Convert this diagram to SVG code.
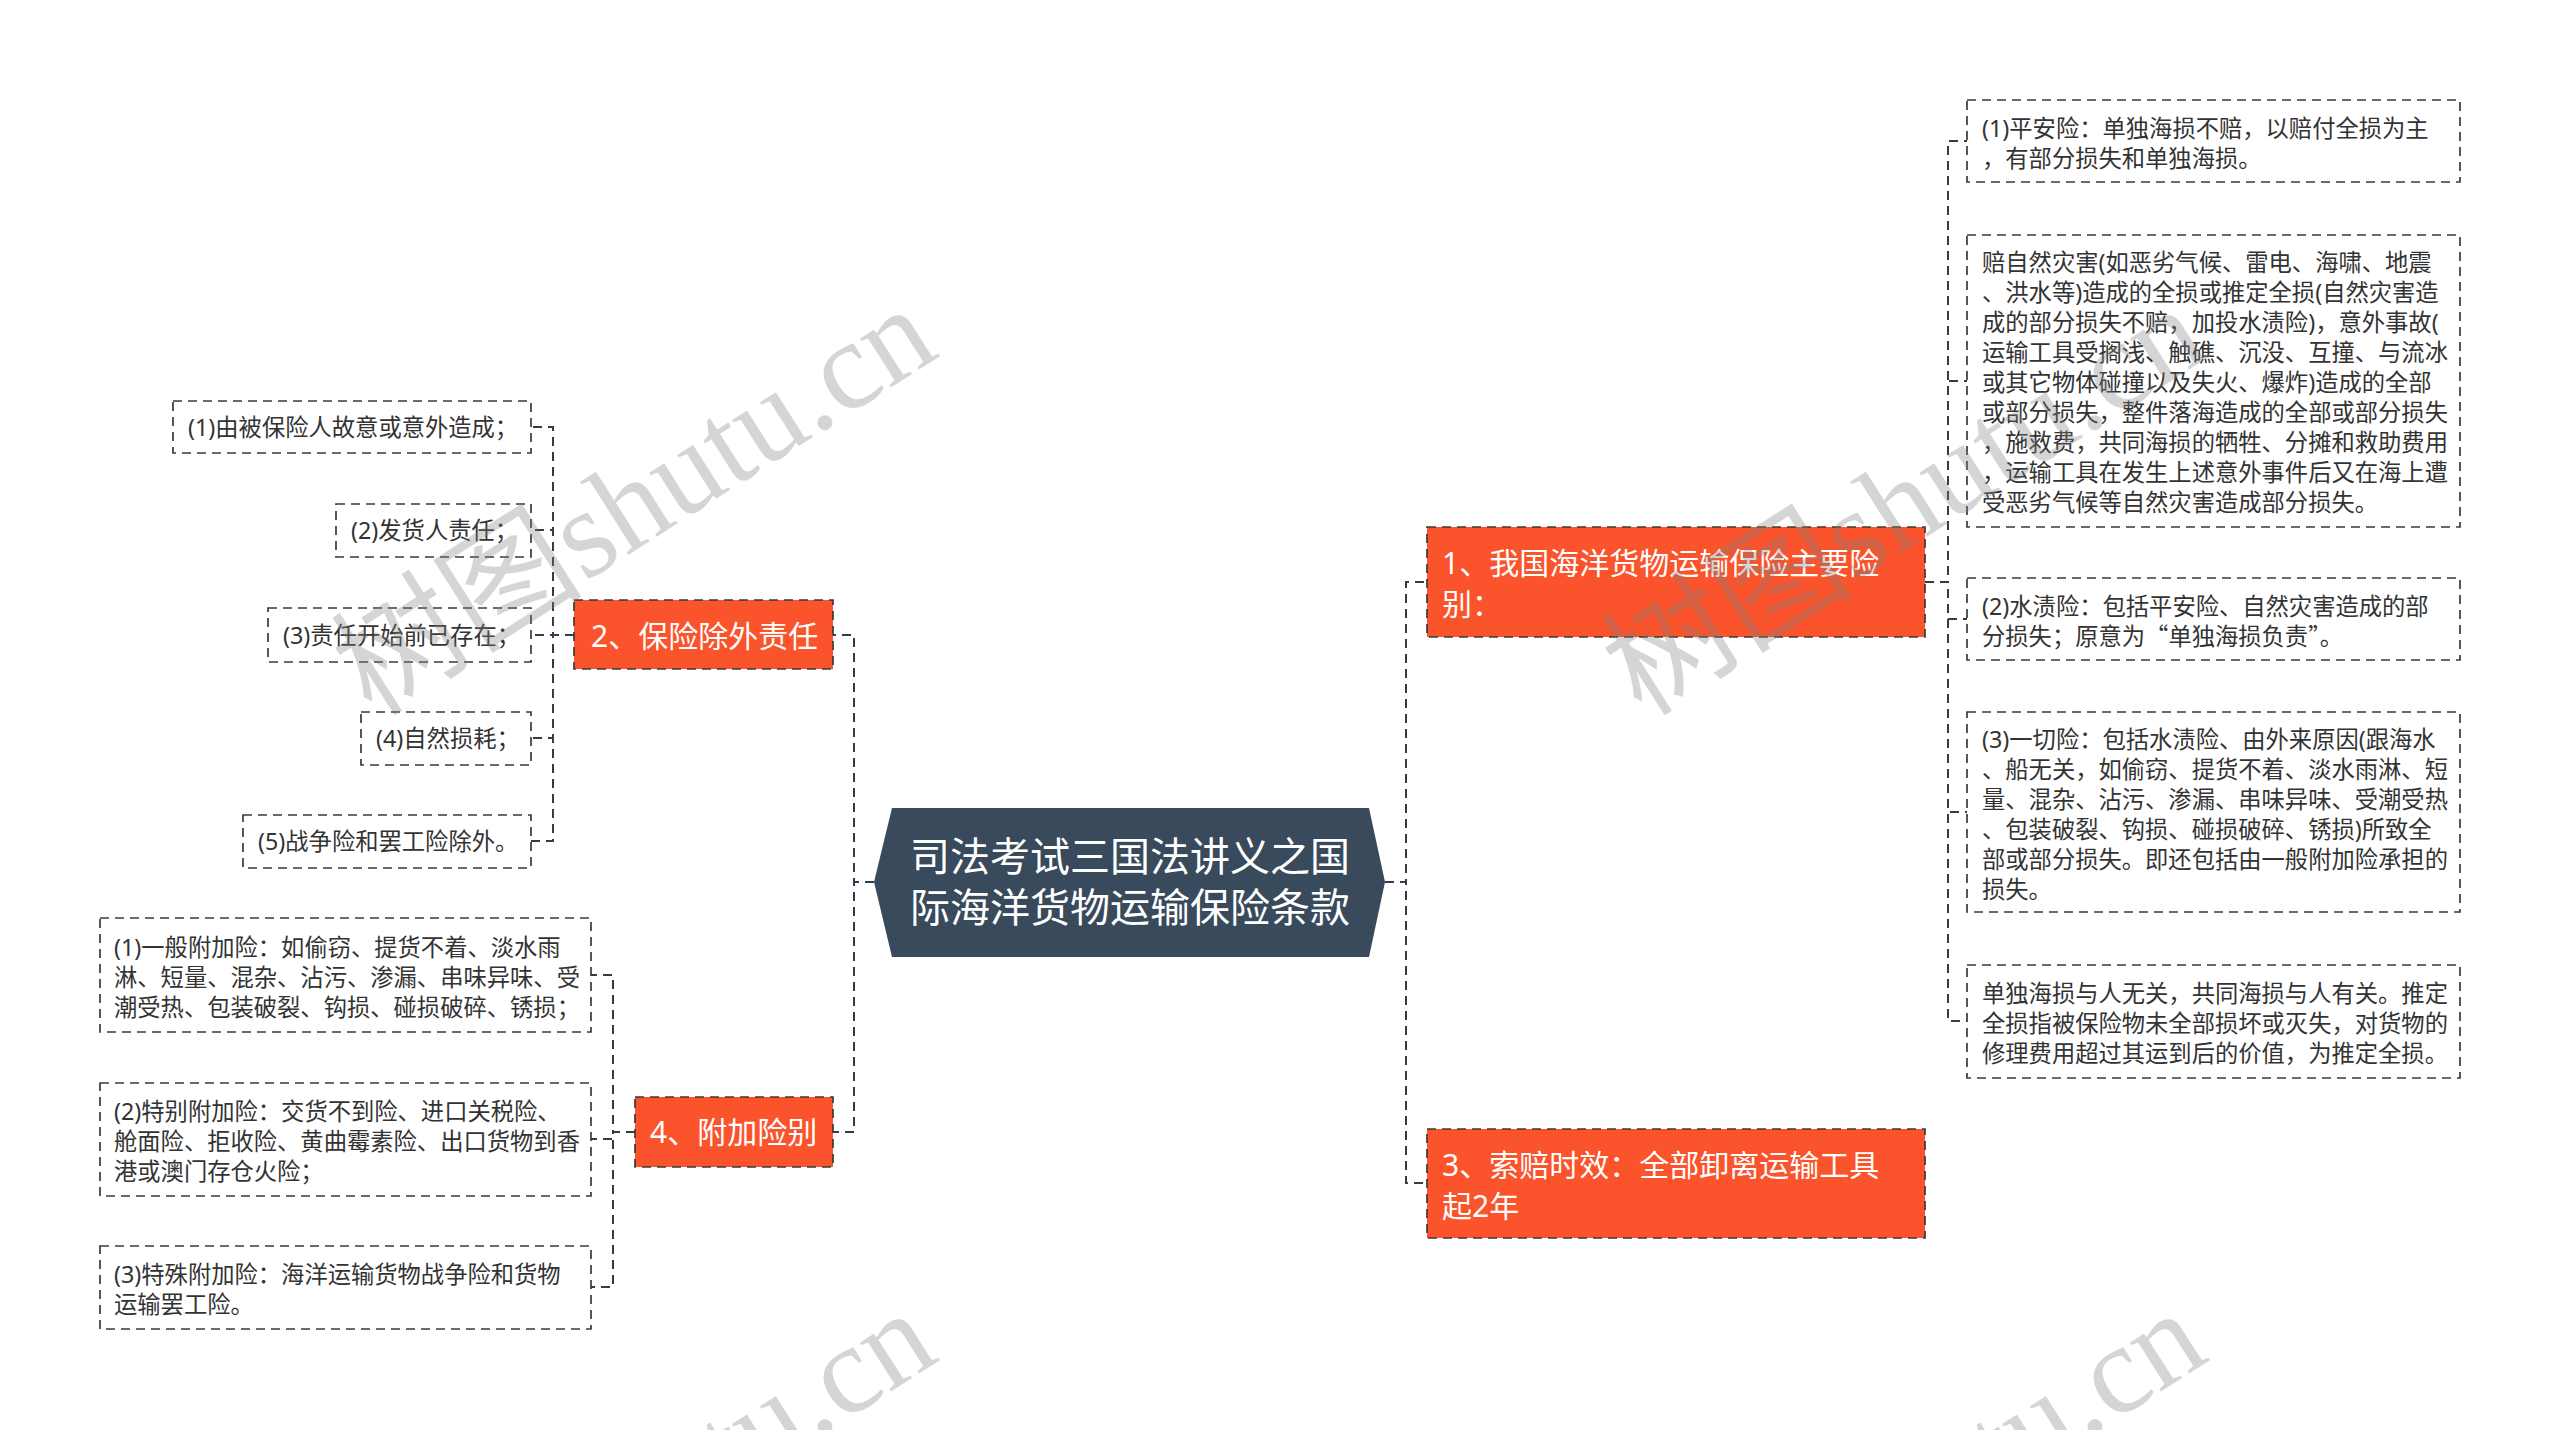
<svg xmlns="http://www.w3.org/2000/svg" width="2560" height="1430" viewBox="0 0 2560 1430">
<style>
.bg{fill:#ffffff}
.conn{fill:none;stroke:#2f3d4c;stroke-width:2;stroke-dasharray:9 6}
.leaf{fill:#ffffff;stroke:#3a3a3a;stroke-width:1.7;stroke-dasharray:9 6}
.main{fill:#fb532b;stroke:#3a3a3a;stroke-width:1.7;stroke-dasharray:9 6}
.root{fill:#384a5b}
.t{font-family:"Noto Sans","Noto Sans CJK SC",sans-serif;font-size:23.3px;fill:#333333}
.cjk{font-family:"Noto Sans CJK SC",sans-serif}
.tm{font-family:"Noto Sans","Noto Sans CJK SC",sans-serif;font-size:30px;fill:#ffffff}
.tr{font-family:"Noto Sans","Noto Sans CJK SC",sans-serif;font-size:40px;fill:#ffffff}
.wm{font-family:"Liberation Serif","Noto Sans CJK SC",serif;font-size:126px;fill:#808080;opacity:0.32}
</style>
<rect class="bg" x="0" y="0" width="2560" height="1430"/>

<g id="connectors">
  <path class="conn" d="M1385,882 H1406 V582 H1427"/>
  <path class="conn" d="M1385,882 H1406 V1183 H1427"/>
  <path class="conn" d="M874,882 H854 V635 H833"/>
  <path class="conn" d="M874,882 H854 V1132 H833"/>
  <path class="conn" d="M1925,582 H1948 V141 H1967"/>
  <path class="conn" d="M1925,582 H1948 V381 H1967"/>
  <path class="conn" d="M1925,582 H1948 V619 H1967"/>
  <path class="conn" d="M1925,582 H1948 V812 H1967"/>
  <path class="conn" d="M1925,582 H1948 V1021 H1967"/>
  <path class="conn" d="M574,635 H553 V427 H531"/>
  <path class="conn" d="M574,635 H553 V530 H531"/>
  <path class="conn" d="M574,635 H531"/>
  <path class="conn" d="M574,635 H553 V738 H531"/>
  <path class="conn" d="M574,635 H553 V841 H531"/>
  <path class="conn" d="M635,1132 H613 V975 H591"/>
  <path class="conn" d="M635,1132 H613 V1139 H591"/>
  <path class="conn" d="M635,1132 H613 V1287 H591"/>
</g>

<g id="root">
  <polygon class="root" points="874,882 892,808 1369,808 1385,882 1369,957 892,957"/>
  <text class="tr" x="1130" y="871" text-anchor="middle">司法考试三国法讲义之国</text>
  <text class="tr" x="1130" y="922" text-anchor="middle">际海洋货物运输保险条款</text>
</g>

<g id="n1">
  <rect class="main" x="1427" y="527" width="498" height="110"/>
  <text class="tm" x="1442" y="574">1、我国海洋货物运输保险主要险</text>
  <text class="tm" x="1442" y="615">别：</text>
</g>

<g id="n3">
  <rect class="main" x="1427" y="1129" width="498" height="109"/>
  <text class="tm" x="1442" y="1176">3、索赔时效：全部卸离运输工具</text>
  <text class="tm" x="1442" y="1217">起2年</text>
</g>

<g id="n2">
  <rect class="main" x="574" y="600" width="259" height="69"/>
  <text class="tm" x="591" y="647">2、保险除外责任</text>
</g>

<g id="n4">
  <rect class="main" x="635" y="1097" width="198" height="70"/>
  <text class="tm" x="650" y="1143">4、附加险别</text>
</g>

<g id="n1-1">
  <rect class="leaf" x="1967" y="100" width="493" height="82"/>
  <text class="t" x="1982" y="137">(1)平安险：单独海损不赔，以赔付全损为主</text>
  <text class="t" x="1982" y="167">，有部分损失和单独海损。</text>
</g>

<g id="n1-2">
  <rect class="leaf" x="1967" y="235" width="493" height="292"/>
  <text class="t" x="1982" y="271">赔自然灾害(如恶劣气候、雷电、海啸、地震</text>
  <text class="t" x="1982" y="301">、洪水等)造成的全损或推定全损(自然灾害造</text>
  <text class="t" x="1982" y="331">成的部分损失不赔，加投水渍险)，意外事故(</text>
  <text class="t" x="1982" y="361">运输工具受搁浅、触礁、沉没、互撞、与流冰</text>
  <text class="t" x="1982" y="391">或其它物体碰撞以及失火、爆炸)造成的全部</text>
  <text class="t" x="1982" y="421">或部分损失，整件落海造成的全部或部分损失</text>
  <text class="t" x="1982" y="451">，施救费，共同海损的牺牲、分摊和救助费用</text>
  <text class="t" x="1982" y="481">，运输工具在发生上述意外事件后又在海上遭</text>
  <text class="t" x="1982" y="511">受恶劣气候等自然灾害造成部分损失。</text>
</g>

<g id="n1-3">
  <rect class="leaf" x="1967" y="578" width="493" height="82"/>
  <text class="t" x="1982" y="615">(2)水渍险：包括平安险、自然灾害造成的部</text>
  <text class="t" x="1982" y="645">分损失；原意为<tspan class="cjk">“</tspan>单独海损负责<tspan class="cjk">”</tspan>。</text>
</g>

<g id="n1-4">
  <rect class="leaf" x="1967" y="712" width="493" height="200"/>
  <text class="t" x="1982" y="748">(3)一切险：包括水渍险、由外来原因(跟海水</text>
  <text class="t" x="1982" y="778">、船无关，如偷窃、提货不着、淡水雨淋、短</text>
  <text class="t" x="1982" y="808">量、混杂、沾污、渗漏、串味异味、受潮受热</text>
  <text class="t" x="1982" y="838">、包装破裂、钩损、碰损破碎、锈损)所致全</text>
  <text class="t" x="1982" y="868">部或部分损失。即还包括由一般附加险承担的</text>
  <text class="t" x="1982" y="898">损失。</text>
</g>

<g id="n1-5">
  <rect class="leaf" x="1967" y="965" width="493" height="113"/>
  <text class="t" x="1982" y="1002">单独海损与人无关，共同海损与人有关。推定</text>
  <text class="t" x="1982" y="1032">全损指被保险物未全部损坏或灭失，对货物的</text>
  <text class="t" x="1982" y="1062">修理费用超过其运到后的价值，为推定全损。</text>
</g>

<g id="n2-1">
  <rect class="leaf" x="173" y="401" width="358" height="52"/>
  <text class="t" x="188" y="436">(1)由被保险人故意或意外造成；</text>
</g>
<g id="n2-2">
  <rect class="leaf" x="336" y="504" width="195" height="53"/>
  <text class="t" x="351" y="539">(2)发货人责任；</text>
</g>
<g id="n2-3">
  <rect class="leaf" x="268" y="608" width="263" height="54"/>
  <text class="t" x="283" y="644">(3)责任开始前已存在；</text>
</g>
<g id="n2-4">
  <rect class="leaf" x="361" y="712" width="170" height="53"/>
  <text class="t" x="376" y="747">(4)自然损耗；</text>
</g>
<g id="n2-5">
  <rect class="leaf" x="243" y="815" width="288" height="53"/>
  <text class="t" x="258" y="850">(5)战争险和罢工险除外。</text>
</g>

<g id="n4-1">
  <rect class="leaf" x="100" y="918" width="491" height="114"/>
  <text class="t" x="114" y="956">(1)一般附加险：如偷窃、提货不着、淡水雨</text>
  <text class="t" x="114" y="986">淋、短量、混杂、沾污、渗漏、串味异味、受</text>
  <text class="t" x="114" y="1016">潮受热、包装破裂、钩损、碰损破碎、锈损；</text>
</g>
<g id="n4-2">
  <rect class="leaf" x="100" y="1083" width="491" height="113"/>
  <text class="t" x="114" y="1120">(2)特别附加险：交货不到险、进口关税险、</text>
  <text class="t" x="114" y="1150">舱面险、拒收险、黄曲霉素险、出口货物到香</text>
  <text class="t" x="114" y="1180">港或澳门存仓火险；</text>
</g>
<g id="n4-3">
  <rect class="leaf" x="100" y="1246" width="491" height="83"/>
  <text class="t" x="114" y="1283">(3)特殊附加险：海洋运输货物战争险和货物</text>
  <text class="t" x="114" y="1313">运输罢工险。</text>
</g>

<g id="watermark">
  <text class="wm" transform="translate(372,718) rotate(-32.5)">树图shutu.cn</text>
  <text class="wm" transform="translate(1642,718) rotate(-32.5)">树图shutu.cn</text>
  <text class="wm" transform="translate(372,1722) rotate(-32.5)">树图shutu.cn</text>
  <text class="wm" transform="translate(1642,1722) rotate(-32.5)">树图shutu.cn</text>
</g>
</svg>
